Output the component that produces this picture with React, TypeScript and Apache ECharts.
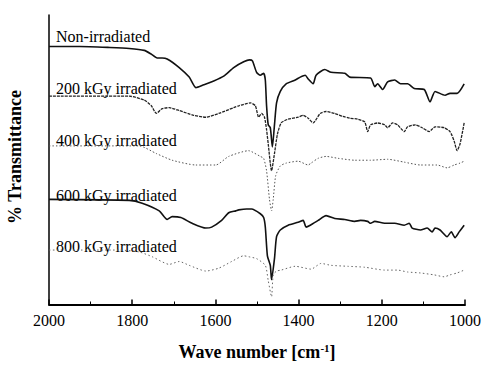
import React, { useEffect, useRef } from "react";
import * as echarts from "echarts";

// wavenumber [cm-1], transmittance (arbitrary, offset spectra)
const nonIrradiated: [number, number][] = [
  [2000, 270], [1926, 270], [1854, 269], [1807, 268], [1771, 266], [1754, 262], [1740, 258], [1728, 258],
  [1716, 257], [1687, 248], [1663, 238], [1647, 227], [1628, 230], [1604, 234], [1580, 239], [1556, 248],
  [1532, 254], [1518, 256], [1511, 255], [1501, 243], [1492, 240], [1484, 242], [1480, 235], [1477, 208],
  [1473, 188], [1468, 185], [1463, 165], [1458, 188], [1453, 211], [1444, 223], [1430, 231], [1408, 235],
  [1396, 238], [1384, 240], [1377, 236], [1365, 231], [1358, 240], [1337, 246], [1322, 243], [1289, 242],
  [1277, 238], [1227, 237], [1217, 228], [1210, 231], [1198, 225], [1186, 233], [1169, 235], [1155, 231],
  [1138, 231], [1122, 226], [1098, 225], [1084, 212], [1072, 223], [1048, 219], [1036, 221], [1019, 221],
  [1002, 231],
];

const kGy200: [number, number][] = [
  [2000, 218], [1807, 218], [1771, 214], [1754, 208], [1742, 200], [1728, 205], [1711, 206], [1687, 203],
  [1652, 198], [1623, 196], [1592, 200], [1556, 206], [1544, 208], [1516, 211], [1504, 208], [1496, 196],
  [1489, 200], [1482, 196], [1477, 183], [1473, 168], [1465, 140], [1458, 158], [1451, 178], [1442, 190],
  [1425, 194], [1401, 196], [1389, 198], [1377, 195], [1365, 190], [1348, 200], [1334, 202], [1313, 200],
  [1294, 197], [1277, 195], [1258, 194], [1241, 191], [1234, 181], [1227, 188], [1210, 190], [1193, 188],
  [1186, 185], [1174, 190], [1162, 188], [1146, 181], [1138, 186], [1119, 188], [1103, 185], [1086, 181],
  [1072, 186], [1050, 185], [1036, 181], [1026, 171], [1019, 161], [1012, 168], [1002, 190],
];

const kGy400: [number, number][] = [
  [2000, 166], [1783, 166], [1742, 158], [1704, 151], [1647, 146], [1599, 146], [1568, 155], [1520, 161],
  [1513, 160], [1492, 155], [1484, 153], [1477, 140], [1470, 110], [1465, 98], [1461, 110], [1455, 135],
  [1444, 145], [1430, 148], [1401, 150], [1377, 146], [1370, 148], [1353, 153], [1334, 155], [1305, 153],
  [1265, 151], [1227, 151], [1186, 152], [1146, 149], [1107, 146], [1067, 146], [1043, 143], [1026, 146],
  [1012, 148], [1002, 150],
];

const kGy600: [number, number][] = [
  [2000, 110], [1807, 109], [1776, 106], [1735, 98], [1716, 89], [1704, 92], [1683, 91], [1656, 85],
  [1623, 80], [1609, 81], [1585, 88], [1568, 96], [1551, 98], [1544, 99], [1525, 100], [1513, 100],
  [1492, 95], [1484, 91], [1480, 81], [1475, 51], [1468, 41], [1465, 26], [1458, 48], [1453, 71],
  [1444, 78], [1425, 83], [1401, 86], [1389, 88], [1382, 81], [1372, 83], [1353, 88], [1334, 93],
  [1313, 90], [1289, 89], [1265, 87], [1251, 88], [1234, 87], [1227, 85], [1217, 87], [1193, 85],
  [1169, 85], [1146, 83], [1134, 85], [1127, 80], [1107, 78], [1091, 80], [1079, 76], [1072, 80],
  [1060, 78], [1043, 71], [1033, 76], [1024, 70], [1014, 76], [1002, 83],
];

const kGy800: [number, number][] = [
  [2000, 57], [1831, 57], [1783, 55], [1752, 50], [1711, 42], [1687, 45], [1663, 41], [1623, 35],
  [1592, 38], [1561, 45], [1532, 51], [1520, 50], [1501, 48], [1480, 41], [1473, 25], [1465, 8],
  [1461, 31], [1453, 35], [1442, 36], [1408, 40], [1370, 37], [1346, 43], [1322, 41], [1282, 40],
  [1241, 39], [1193, 36], [1162, 36], [1138, 34], [1107, 33], [1074, 31], [1050, 29], [1036, 31],
  [1019, 33], [1002, 36],
];

const seriesNames = ["Non-irradiated", "200 kGy irradiated", "400 kGy irradiated", "600 kGy irradiated", "800 kGy irradiated"];
const xTicks = [2000, 1800, 1600, 1400, 1200, 1000];

const FONT = "Liberation Serif";

export default function App() {
  const ref = useRef<HTMLDivElement>(null);
  useEffect(() => {
    if (!ref.current) return;
    const chart = echarts.init(ref.current, null, { renderer: "svg" });
    const datasets = [nonIrradiated, kGy200, kGy400, kGy600, kGy800];
    const styles = [
      { color: "#111", width: 1.6, type: "solid" as any },
      { color: "#222", width: 1.3, type: [3, 1] as any },
      { color: "#555", width: 1, type: [1.5, 2] as any },
      { color: "#111", width: 1.6, type: "solid" as any },
      { color: "#666", width: 1, type: [1.5, 2.5] as any },
    ];
    const labelY = [36, 88, 140, 195, 246];
    chart.setOption({
      animation: false,
      grid: { left: 49, right: 16, top: 15, bottom: 48 },
      xAxis: {
        type: "value",
        min: 1000,
        max: 2000,
        interval: 200,
        inverse: true,
        axisLine: { show: true, onZero: false, lineStyle: { color: "#000", width: 2 } },
        axisTick: { show: true, inside: true, length: 5, lineStyle: { color: "#000", width: 1.5 } },
        minorTick: { show: true, splitNumber: 2, length: 3, lineStyle: { color: "#000", width: 1 } },
        splitLine: { show: false },
        axisLabel: {
          color: "#000",
          fontFamily: FONT,
          fontSize: 16,
          margin: 8,
          formatter: (v: number) => (xTicks.includes(v) ? String(v) : ""),
        },
        name: "Wave number [cm{sup|-1}]",
        nameLocation: "middle",
        nameGap: 38,
        nameTextStyle: {
          color: "#000",
          fontFamily: FONT,
          fontSize: 18,
          fontWeight: "bold",
          rich: {
            sup: { fontSize: 11, fontWeight: "bold", fontFamily: FONT, color: "#000", verticalAlign: "top", padding: [0, 0, 8, 0] },
          },
        },
      },
      yAxis: {
        type: "value",
        min: 0,
        max: 303,
        axisLine: { show: true, onZero: false, lineStyle: { color: "#000", width: 1.5 } },
        axisTick: { show: false },
        axisLabel: { show: false },
        splitLine: { show: false },
      },
      series: datasets.map((d, i) => ({
        type: "line",
        name: seriesNames[i],
        data: d,
        showSymbol: false,
        symbol: "none",
        smooth: 0.2,
        lineStyle: styles[i],
      })),
      graphic: [
        ...seriesNames.map((n, i) => ({
          type: "text",
          x: 56,
          y: labelY[i],
          style: { text: n, font: "16px 'Liberation Serif'", fontFamily: FONT, fontSize: 16, fill: "#000", verticalAlign: "middle" },
        })),
        {
          type: "text",
          x: 15,
          y: 157,
          rotation: Math.PI / 2,
          style: {
            text: "% Transmittance",
            fontFamily: FONT,
            fontSize: 18,
            fontWeight: "bold",
            fill: "#000",
            align: "center",
            verticalAlign: "middle",
          },
        },
      ],
    });
    return () => chart.dispose();
  }, []);
  return <div ref={ref} style={{ width: 484, height: 366, position: "absolute", left: 0, top: 0, background: "#fff" }} />;
}
